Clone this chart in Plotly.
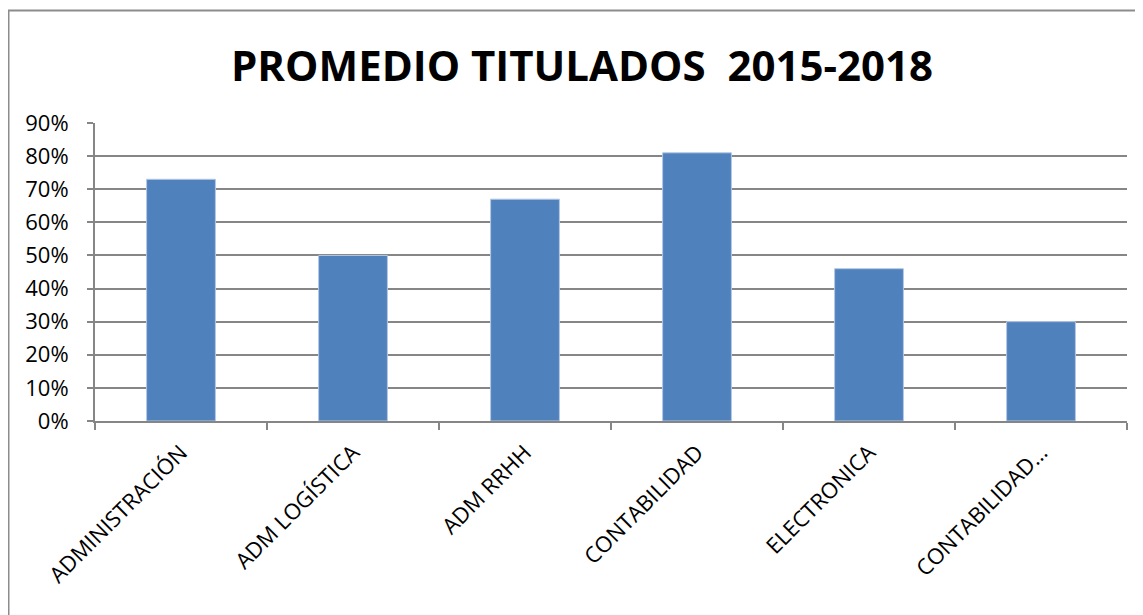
import plotly.graph_objects as go

categories = ["ADMINISTRACIÓN", "ADM LOGÍSTICA", "ADM RRHH", "CONTABILIDAD", "ELECTRONICA", "CONTABILIDAD…"]
values = [0.73, 0.50, 0.67, 0.81, 0.46, 0.30]
title_text = "PROMEDIO TITULADOS  2015-2018"

# page has an 8px body margin; figure coordinates are page coordinates minus 8
OFF = 8
W, H = 1143 - OFF, 615 - OFF
ml, mr, mt, mb = 95 - OFF, 16, 123 - OFF, 194
pw, ph = W - ml - mr, H - mt - mb

def px_x(p):
    return (p - OFF - ml) / pw

def px_y(p):
    return 1 + (mt - (p - OFF)) / ph

fig = go.Figure(go.Bar(
    x=categories, y=values,
    marker=dict(color="#4F81BD", line=dict(color="#B3C8E3", width=1)),
))

grid = "#868686"
fig.update_layout(
    width=W, height=H,
    margin=dict(l=ml, r=mr, t=mt, b=mb),
    paper_bgcolor="white", plot_bgcolor="white",
    bargap=0.6,
    showlegend=False,
    font=dict(family="Open Sans, Noto Sans, sans-serif", color="#000000"),
    xaxis=dict(
        tickangle=-45, tickfont=dict(size=22, color="#000"),
        showline=True, linecolor=grid, linewidth=2,
        ticks="outside", tickson="boundaries", ticklen=7, tickcolor=grid, tickwidth=2,
        ticklabelstandoff=8,
        showgrid=False,
    ),
    yaxis=dict(
        range=[0, 0.9], dtick=0.1, tickformat=".0%",
        tickfont=dict(size=22, color="#000"),
        showline=True, linecolor=grid, linewidth=2,
        ticks="outside", ticklen=6, tickcolor=grid, tickwidth=2,
        ticklabelstandoff=14,
        showgrid=True, gridcolor=grid, gridwidth=2,
        zeroline=False,
    ),
    annotations=[dict(
        text="<b>" + title_text + "</b>",
        xref="paper", yref="paper",
        x=px_x(582), y=px_y(65),
        xanchor="center", yanchor="middle",
        showarrow=False,
        font=dict(size=42, family="Open Sans, Noto Sans, sans-serif", color="#000"),
    )],
    shapes=[dict(
        type="rect", xref="paper", yref="paper",
        x0=px_x(8.5), x1=px_x(1170), y0=px_y(650), y1=px_y(10.5),
        line=dict(color="#8C8C8C", width=2), fillcolor="rgba(0,0,0,0)",
        layer="below",
    )],
)

fig.write_html("out.html")
